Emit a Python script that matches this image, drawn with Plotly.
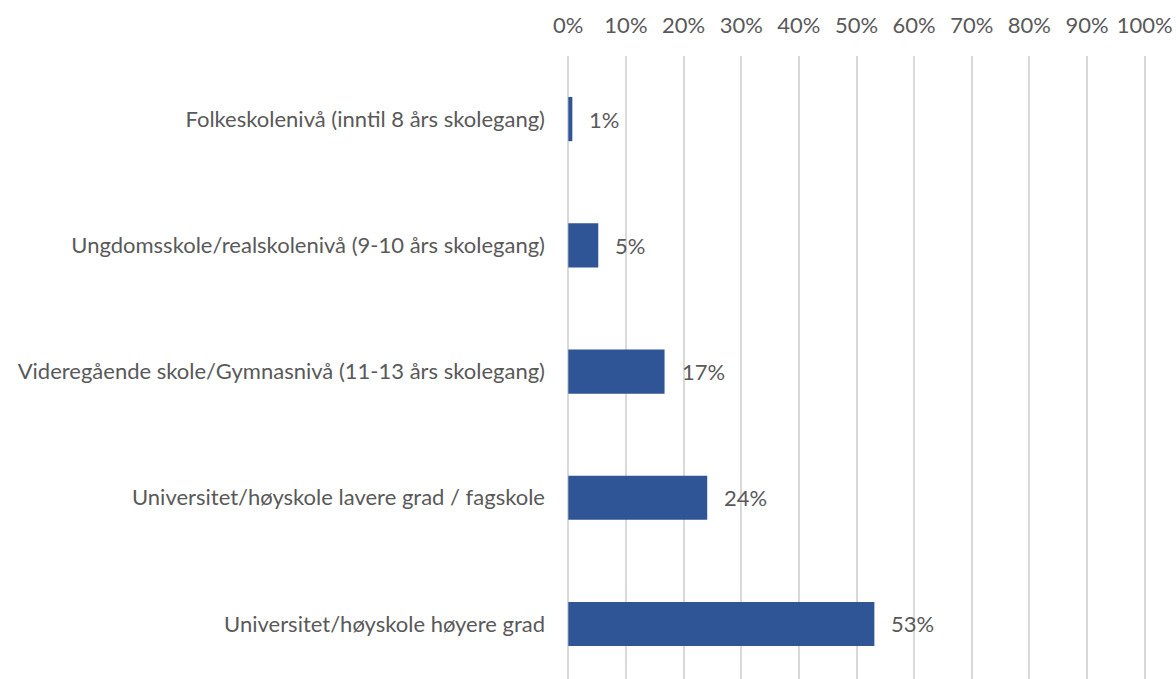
import plotly.graph_objects as go

# Utdanningsnivå (andel respondenter)
categories = [
    "Folkeskolenivå (inntil 8 års skolegang)",
    "Ungdomsskole/realskolenivå (9-10 års skolegang)",
    "Videregående skole/Gymnasnivå (11-13 års skolegang)",
    "Universitet/høyskole lavere grad / fagskole",
    "Universitet/høyskole høyere grad",
]
values = [0.007, 0.052, 0.167, 0.241, 0.531]
value_labels = ["1%", "5%", "17%", "24%", "53%"]
tick_vals = [i / 10 for i in range(11)]
tick_text = [f"{i * 10}%" for i in range(11)]

BAR_COLOR = "#2F5597"
TEXT_COLOR = "#595959"
GRID_COLOR = "#D9D9D9"
FONT = "Lato, 'Open Sans', sans-serif"
FSIZE = 22

fig = go.Figure()
fig.add_trace(go.Bar(
    x=values,
    y=categories,
    orientation="h",
    width=0.35,
    marker=dict(color=BAR_COLOR, line=dict(width=0)),
    hoverinfo="skip",
))

# dataetiketter til høyre for søylene
for cat, val, lab in zip(categories, values, value_labels):
    fig.add_annotation(
        x=val, y=cat, text=lab,
        xanchor="left", yanchor="middle",
        xshift=15, showarrow=False,
        font=dict(family=FONT, size=FSIZE, color=TEXT_COLOR),
    )

fig.update_layout(
    width=1176, height=679,
    margin=dict(l=566, r=29, t=56, b=0, autoexpand=False),
    paper_bgcolor="white",
    plot_bgcolor="white",
    showlegend=False,
    font=dict(family=FONT, size=FSIZE, color=TEXT_COLOR),
)
fig.update_xaxes(
    side="top",
    range=[-0.004, 1.004],
    tickvals=tick_vals,
    ticktext=tick_text,
    showgrid=True,
    gridcolor=GRID_COLOR,
    gridwidth=1.5,
    zeroline=False,
    showline=False,
    ticks="",
    ticklabelstandoff=18,
    tickfont=dict(family=FONT, size=FSIZE, color=TEXT_COLOR),
    fixedrange=True,
)
fig.update_yaxes(
    range=[4.436, -0.5],
    showgrid=False,
    zeroline=False,
    showline=False,
    ticks="",
    ticklabelstandoff=20,
    tickfont=dict(family=FONT, size=FSIZE, color=TEXT_COLOR),
    fixedrange=True,
)

# fjern standardmargen i <body> så figuren fyller vinduet
fig.write_html(
    "out.html",
    config={"displayModeBar": False},
    post_script="document.body.style.margin='0';document.body.style.overflow='hidden';",
)
